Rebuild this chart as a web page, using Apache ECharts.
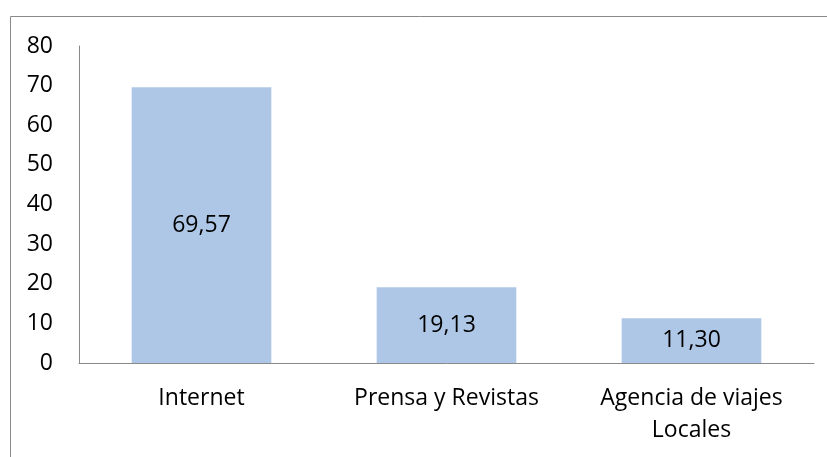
<!DOCTYPE html>
<html>
<head>
<meta charset="utf-8">
<script src="https://cdn.jsdelivr.net/npm/echarts@6/dist/echarts.min.js"></script>
<style>
  html, body { margin: 0; padding: 0; background: #fff; }
  #chart { width: 827px; height: 457px; }
</style>
</head>
<body>
<div id="chart"></div>
<script>
// Fuentes de información consultadas (%)
const categories = ['Internet', 'Prensa y Revistas', 'Agencia de viajes\nLocales'];
const values = [69.57, 19.13, 11.30];
const yTicks = { min: 0, max: 80, interval: 10 };

const FONT = 'Open Sans';
const FS = 23;
const chart = echarts.init(document.getElementById('chart'), null, { renderer: 'canvas' });

chart.setOption({
  animation: false,
  backgroundColor: '#ffffff',
  textStyle: { fontFamily: FONT },
  graphic: [{
    type: 'rect',
    silent: true,
    shape: { x: 10.5, y: 16.5, width: 1000, height: 1000 },
    style: { fill: 'none', stroke: '#898989', lineWidth: 1 }
  }],
  grid: { left: 79, right: 13, top: 46, bottom: 94, containLabel: false },
  xAxis: {
    type: 'category',
    data: categories,
    axisLine: { show: true, lineStyle: { color: '#898989', width: 1 } },
    axisTick: { show: false },
    axisLabel: {
      color: '#000', fontSize: FS, fontFamily: FONT,
      margin: 19, lineHeight: 32, interval: 0
    },
    splitLine: { show: false }
  },
  yAxis: {
    type: 'value',
    min: yTicks.min, max: yTicks.max, interval: yTicks.interval,
    axisLine: { show: true, lineStyle: { color: '#898989', width: 1 } },
    axisTick: { show: false },
    axisLabel: { color: '#000', fontSize: FS, fontFamily: FONT, margin: 26 },
    splitLine: { show: false }
  },
  series: [{
    type: 'bar',
    data: values,
    barWidth: '57%',
    itemStyle: { color: '#aec7e6' },
    label: {
      show: true,
      position: 'inside',
      color: '#000',
      fontSize: FS,
      fontFamily: FONT,
      formatter: p => p.value.toFixed(2).replace('.', ',')
    }
  }]
});
</script>
</body>
</html>
